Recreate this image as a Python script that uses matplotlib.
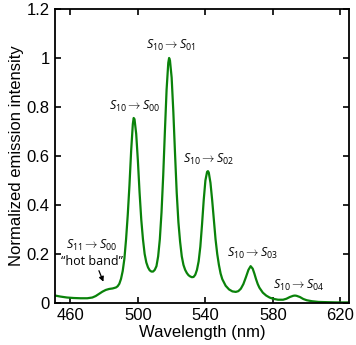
import matplotlib
matplotlib.use("Agg")
import matplotlib.pyplot as plt
from matplotlib.ticker import FuncFormatter

plt.rcParams["font.family"] = ["Liberation Sans", "DejaVu Sans"]
plt.rcParams["mathtext.fontset"] = "custom"
plt.rcParams["mathtext.rm"] = "Open Sans"
plt.rcParams["mathtext.it"] = "Open Sans:italic"

# emission spectrum
wavelength = [451, 454, 458, 462, 466, 470, 473, 475, 477, 479, 481, 483, 485,
              487, 488, 489, 490, 491, 492, 493, 494, 495, 496, 497, 497.5,
              498, 499, 500, 501, 502, 503, 504, 505, 506, 507, 508, 509, 510,
              511, 512, 513, 514, 515, 516, 517, 518, 518.5, 519, 520, 521,
              522, 523, 524, 525, 526, 527, 528, 529, 530, 531, 532, 533, 534,
              535, 536, 537, 538, 539, 540, 541, 541.5, 542, 543, 544, 545,
              546, 547, 548, 549, 550, 552, 554, 556, 558, 559.5, 561, 562.5,
              564, 565.5, 566.8, 568, 569, 570, 571, 572, 574, 576, 578, 580,
              583, 586, 588, 590, 592, 593, 594, 596, 598, 600, 603, 607, 612,
              618, 625]
intensity = [0.030, 0.026, 0.022, 0.020, 0.019, 0.019, 0.022, 0.028, 0.037,
             0.046, 0.053, 0.057, 0.059, 0.063, 0.068, 0.078, 0.098, 0.13,
             0.18, 0.26, 0.36, 0.48, 0.62, 0.73, 0.755, 0.75, 0.69, 0.58,
             0.45, 0.34, 0.26, 0.20, 0.165, 0.145, 0.133, 0.128, 0.128, 0.135,
             0.15, 0.19, 0.26, 0.37, 0.52, 0.70, 0.87, 0.98, 1.0, 0.99, 0.92,
             0.78, 0.61, 0.45, 0.33, 0.25, 0.19, 0.155, 0.135, 0.122, 0.113,
             0.108, 0.105, 0.106, 0.115, 0.135, 0.17, 0.23, 0.32, 0.42, 0.50,
             0.535, 0.538, 0.532, 0.49, 0.42, 0.34, 0.26, 0.20, 0.155, 0.12,
             0.097, 0.07, 0.055, 0.047, 0.045, 0.048, 0.058, 0.077, 0.105,
             0.135, 0.15, 0.14, 0.12, 0.097, 0.077, 0.062, 0.042, 0.03, 0.022,
             0.017, 0.013, 0.013, 0.017, 0.024, 0.029, 0.03, 0.029, 0.024,
             0.016, 0.011, 0.007, 0.004, 0.003, 0.002, 0.002]

labels = [r"$S_{10} \rightarrow S_{00}$", r"$S_{10} \rightarrow S_{01}$",
          r"$S_{10} \rightarrow S_{02}$", r"$S_{10} \rightarrow S_{03}$",
          r"$S_{10} \rightarrow S_{04}$"]
label_x = [497.9, 519.7, 542.2, 567.8, 595.1]
label_y = [0.801, 1.053, 0.584, 0.203, 0.073]

fig = plt.figure(figsize=(3.56, 3.45), dpi=100)
ax = fig.add_axes([0.155, 0.122, 0.825, 0.852])

ax.plot(wavelength, intensity, color="#0a820a", lw=1.6)

for s, x, y in zip(labels, label_x, label_y):
    ax.text(x, y, s, ha="center", va="center", fontsize=9)

ax.text(472.9, 0.233, r"$S_{11} \rightarrow S_{00}$", ha="center",
        va="center", fontsize=9)
ax.text(473.0, 0.169, "\u201chot band\u201d", ha="center", va="center",
        fontsize=9, family="Open Sans")
ax.annotate("", xy=(480.2, 0.076), xytext=(476.3, 0.142),
            arrowprops=dict(arrowstyle="-|>", color="black", lw=0.9,
                            mutation_scale=7))

ax.set_xlim(451, 625)
ax.set_ylim(0, 1.2)
ax.set_xticks([460, 500, 540, 580, 620])
ax.set_yticks([0, 0.2, 0.4, 0.6, 0.8, 1.0, 1.2])
ax.yaxis.set_major_formatter(FuncFormatter(lambda v, p: f"{v:g}"))
ax.tick_params(direction="in", top=True, right=True, length=4.5, width=1.2,
               labelsize=12, pad=4)
for sp in ax.spines.values():
    sp.set_linewidth(1.3)

ax.set_xlabel("Wavelength (nm)", fontsize=12, labelpad=1)
ax.set_ylabel("Normalized emission intensity", fontsize=12, labelpad=2)

fig.savefig("out.png", dpi=100)
